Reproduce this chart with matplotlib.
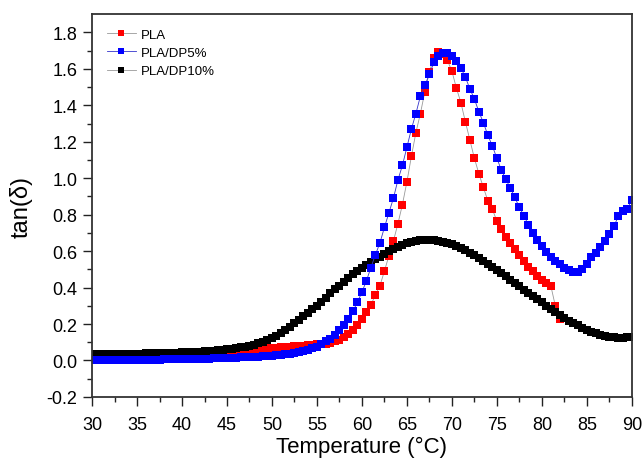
import numpy as np
import matplotlib
import matplotlib.pyplot as plt

matplotlib.use('Agg')
plt.rcParams['font.family'] = ['Liberation Sans', 'DejaVu Sans']

# temperature grid (°C), every 0.5 degree
temp = np.arange(30.0, 90.01, 0.5)

tan_pla = [
    0.015, 0.015, 0.016, 0.016, 0.017, 0.017, 0.018, 0.018, 0.019, 0.019, 0.020,
    0.020, 0.021, 0.021, 0.022, 0.022, 0.023, 0.023, 0.024, 0.024, 0.025,
    0.025, 0.026, 0.027, 0.027, 0.028, 0.029, 0.030, 0.031, 0.033, 0.036,
    0.040, 0.043, 0.047, 0.051, 0.055, 0.058, 0.061, 0.064, 0.066, 0.068,
    0.070, 0.072, 0.074, 0.076, 0.078, 0.080, 0.082, 0.084, 0.086, 0.088,
    0.090, 0.093, 0.096, 0.104, 0.114, 0.128, 0.147, 0.168, 0.195, 0.227,
    0.265, 0.305, 0.360, 0.410, 0.490, 0.575, 0.655, 0.750, 0.855, 0.980,
    1.120, 1.250, 1.355, 1.475, 1.585, 1.660, 1.690, 1.680, 1.647, 1.588,
    1.495, 1.415, 1.310, 1.210, 1.110, 1.025, 0.950, 0.876, 0.830, 0.765,
    0.720, 0.680, 0.645, 0.610, 0.578, 0.545, 0.515, 0.490, 0.465, 0.440,
    0.425, 0.410, 0.300, 0.225,
]

tan_dp5 = [
    0.000, 0.000, 0.001, 0.001, 0.002, 0.002, 0.002, 0.003, 0.003, 0.003, 0.004,
    0.004, 0.004, 0.005, 0.005, 0.005, 0.006, 0.006, 0.006, 0.007, 0.007,
    0.007, 0.008, 0.008, 0.009, 0.009, 0.010, 0.011, 0.012, 0.013, 0.014,
    0.015, 0.016, 0.017, 0.018, 0.019, 0.020, 0.021, 0.022, 0.024, 0.026,
    0.028, 0.030, 0.033, 0.036, 0.040, 0.045, 0.051, 0.058, 0.066, 0.076,
    0.090, 0.105, 0.120, 0.140, 0.165, 0.195, 0.230, 0.270, 0.320, 0.375,
    0.437, 0.510, 0.580, 0.645, 0.730, 0.810, 0.890, 0.990, 1.070, 1.170,
    1.270, 1.355, 1.450, 1.510, 1.570, 1.635, 1.670, 1.685, 1.685, 1.670,
    1.645, 1.605, 1.555, 1.490, 1.435, 1.365, 1.305, 1.236, 1.177, 1.110,
    1.045, 0.995, 0.945, 0.895, 0.840, 0.795, 0.745, 0.697, 0.662, 0.629,
    0.596, 0.570, 0.545, 0.527, 0.510, 0.495, 0.483, 0.483, 0.500, 0.530,
    0.565, 0.590, 0.620, 0.655, 0.695, 0.735, 0.790, 0.820, 0.830, 0.880,
]

tan_dp10 = [
    0.035, 0.035, 0.035, 0.036, 0.036, 0.036, 0.037, 0.037, 0.037, 0.038, 0.038,
    0.038, 0.039, 0.039, 0.040, 0.040, 0.041, 0.041, 0.042, 0.043, 0.044,
    0.045, 0.046, 0.047, 0.048, 0.050, 0.051, 0.053, 0.055, 0.058, 0.061,
    0.064, 0.068, 0.072, 0.076, 0.080, 0.087, 0.095, 0.103, 0.112, 0.122,
    0.134, 0.150, 0.168, 0.185, 0.205, 0.222, 0.243, 0.262, 0.282, 0.300,
    0.323, 0.345, 0.368, 0.390, 0.410, 0.433, 0.455, 0.475, 0.492, 0.508,
    0.525, 0.540, 0.555, 0.570, 0.584, 0.598, 0.611, 0.623, 0.634, 0.643,
    0.650, 0.655, 0.659, 0.661, 0.662, 0.661, 0.657, 0.652, 0.645, 0.637,
    0.627, 0.616, 0.604, 0.591, 0.577, 0.562, 0.546, 0.530, 0.513, 0.496,
    0.479, 0.461, 0.443, 0.425, 0.407, 0.389, 0.371, 0.353, 0.335, 0.318,
    0.300, 0.283, 0.266, 0.250, 0.234, 0.219, 0.205, 0.192, 0.180, 0.168,
    0.158, 0.149, 0.141, 0.135, 0.130, 0.127, 0.125, 0.125, 0.126, 0.128,
]

fig = plt.figure(figsize=(6.44, 4.6), dpi=100)
ax = fig.add_axes([0.143, 0.135, 0.838, 0.832])

ms = 5.3
h_pla, = ax.plot(temp[:len(tan_pla)], tan_pla, color='#999999', lw=0.6, marker='s',
                 ms=ms, mfc='#ff0000', mec='#ff0000', mew=0, label='PLA')
h_dp10, = ax.plot(temp, tan_dp10, color='#999999', lw=0.6, marker='s',
                  ms=ms, mfc='#000000', mec='#000000', mew=0, label='PLA/DP10%')
h_dp5, = ax.plot(temp, tan_dp5, color='#3333cc', lw=0.6, marker='s',
                 ms=ms, mfc='#0000ff', mec='#0000ff', mew=0, label='PLA/DP5%')

ax.set_xlim(30, 90)
ax.set_ylim(-0.2, 1.9)
ax.set_xticks(np.arange(30, 91, 5))
ax.set_xticks(np.arange(32.5, 90, 5), minor=True)
ax.set_yticks(np.arange(-0.2, 1.81, 0.2))
ax.set_yticks(np.arange(-0.1, 1.9, 0.2), minor=True)
ax.set_yticklabels([f'{v:.1f}' for v in np.arange(-0.2, 1.81, 0.2)])

ax.tick_params(which='both', direction='out', top=False, right=False,
               labelsize=13, width=1.0, color='#222222')
ax.tick_params(which='major', length=6.5)
ax.tick_params(which='minor', length=3.5)
ax.tick_params(axis='x', which='major', pad=7)
ax.tick_params(axis='y', which='major', pad=4)
for sp in ax.spines.values():
    sp.set_linewidth(1.3)
    sp.set_color('#333333')

ax.set_xlabel('Temperature (°C)', fontsize=16, labelpad=2)
ax.set_ylabel('tan(δ)', fontsize=17, labelpad=10)

ax.legend(handles=[h_pla, h_dp5, h_dp10], loc='upper left', frameon=False,
          fontsize=9.5, handlelength=2.2, handletextpad=0.4, labelspacing=0.45,
          borderaxespad=0.7, markerscale=0.85)

fig.savefig('out.png', dpi=100)
